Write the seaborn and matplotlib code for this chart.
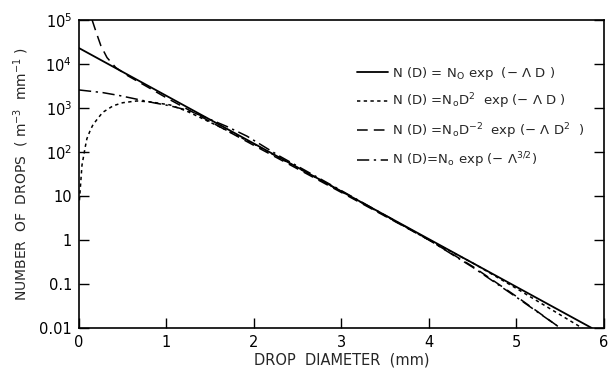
import matplotlib
matplotlib.use("Agg")
import matplotlib.pyplot as plt
import seaborn as sns
import pandas as pd
from matplotlib.ticker import FixedLocator, FixedFormatter

# ---- data ----
exp_D = [0.0, 5.86]
exp_N = [23000, 0.01]

gam_D = [0.005, 0.034, 0.07, 0.09, 0.13, 0.16, 0.21, 0.27, 0.39, 0.50, 0.66, 0.81,
         1.04, 1.23, 1.6, 2.0, 3.0, 4.0, 4.5, 5.0, 5.75]
gam_N = [8, 50, 126, 200, 316, 417, 562, 794, 1122, 1318, 1445, 1380,
         1175, 851, 380, 151, 12.6, 1.0, 0.30, 0.079, 0.01]

neg_D = [0.15, 0.2, 0.25, 0.32, 0.42, 0.56, 0.8, 1.0, 1.5, 2.0, 3.0, 4.0, 4.5, 5.0, 5.5]
neg_N = [100000, 50000, 26000, 14000, 8300, 5370, 2880, 1700, 490, 141, 12.0, 1.0,
         0.25, 0.052, 0.01]

pow_D = [0.0, 0.27, 0.47, 0.66, 0.85, 1.04, 1.2, 1.38, 1.69, 1.92, 2.3, 3.0, 4.0,
         4.5, 5.0, 5.5]
pow_N = [2570, 2240, 1905, 1585, 1318, 1122, 933, 692, 380, 229, 79, 13.2, 1.0,
         0.24, 0.05, 0.01]

labels = [r"N (D) = N$_{\rm O}$ exp  (− Λ D )",
          r"N (D) =N$_{\rm o}$D$^{2}$  exp (− Λ D )",
          r"N (D) =N$_{\rm o}$D$^{-2}$  exp (− Λ D$^{2}$  )",
          r"N (D)=N$_{\rm o}$ exp (− Λ$^{3/2}$)"]

y_ticks = [0.01, 0.1, 1, 10, 100, 1000, 1e4, 1e5]
y_ticklabels = ["0.01", "0.1", "1", "10", r"10$^2$", r"10$^3$", r"10$^4$", r"10$^5$"]
x_ticks = [0, 1, 2, 3, 4, 5, 6]

sns.set_style("ticks")
plt.rcParams["font.family"] = ["DejaVu Sans"]
plt.rcParams["mathtext.default"] = "regular"

fig = plt.figure(figsize=(6.09, 3.71), dpi=100)
ax = fig.add_axes([79 / 609, 1 - 328 / 371, 525 / 609, 308 / 371])

series = [
    (exp_D, exp_N, labels[0], "-", 1.3),
    (gam_D, gam_N, labels[1], (0, (2.2, 2.2)), 1.1),
    (neg_D, neg_N, labels[2], (0, (7, 4)), 1.1),
    (pow_D, pow_N, labels[3], (0, (8, 3, 1.5, 3)), 1.1),
]
for D, N, lab, ls, lw in series:
    df = pd.DataFrame({"D": D, "N": N})
    sns.lineplot(data=df, x="D", y="N", ax=ax, color="black", linestyle=ls,
                 linewidth=lw, label=lab, sort=False)

ax.set_yscale("log")
ax.set_xlim(0, 6)
ax.set_ylim(0.01, 1e5)
ax.yaxis.set_major_locator(FixedLocator(y_ticks))
ax.yaxis.set_major_formatter(FixedFormatter(y_ticklabels))
ax.yaxis.set_minor_locator(FixedLocator([]))
ax.set_xticks(x_ticks)
ax.set_xticklabels([str(v) for v in x_ticks])
ax.tick_params(axis="both", direction="in", length=7, width=1, labelsize=10.5,
               colors="black", pad=5)
ax.tick_params(axis="y", right=True, left=True)
for s in ax.spines.values():
    s.set_visible(True)
    s.set_linewidth(1.2)
    s.set_color("black")

ax.set_xlabel("DROP  DIAMETER  (mm)", fontsize=10.5, labelpad=2)
ax.set_ylabel(r"NUMBER  OF  DROPS  ( m$^{-3}$  mm$^{-1}$ )", fontsize=10, labelpad=6)

leg = ax.legend(loc="upper left", bbox_to_anchor=(0.53, 0.855), frameon=False,
                fontsize=9.5, handlelength=2.3, handletextpad=0.3, labelspacing=0.75,
                borderaxespad=0, borderpad=0)

fig.savefig("out.png", dpi=100)
